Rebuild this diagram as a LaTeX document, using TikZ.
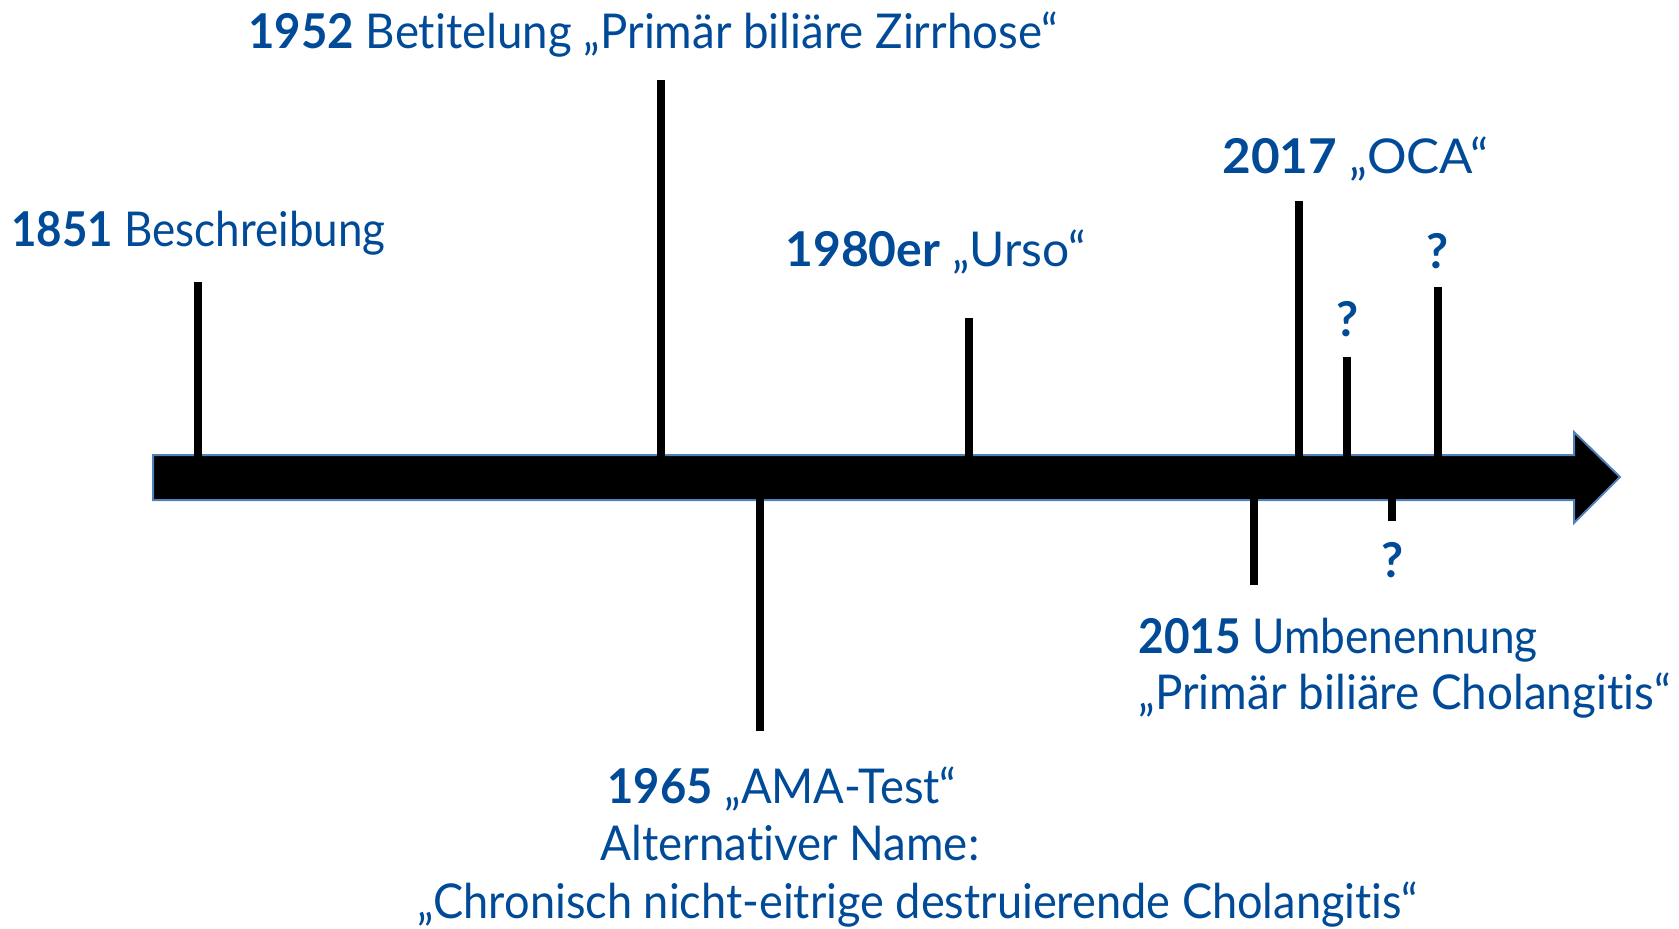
\documentclass[tikz,border=0pt]{standalone}
\usepackage{fontspec}
\setmainfont{Lato}[Ligatures=NoCommon]
\definecolor{textblue}{RGB}{0,74,152}
\definecolor{edgeblue}{RGB}{79,129,189}
\tikzset{
  tick/.style={line width=4pt, black},
  label/.style={anchor=base west, inner sep=0pt, text=textblue, font=\fontsize{24}{28}\selectfont},
  query/.style={anchor=base, inner sep=0pt, text=textblue, font=\fontsize{24}{28}\selectfont\bfseries},
}
\begin{document}
\begin{tikzpicture}[x=0.5pt, y=-0.5pt]
\useasboundingbox (0,0) rectangle (1679,928);
% timeline arrow
\draw[edgeblue, line width=1pt, fill=black] (153,455) -- (1574,455) -- (1574,432) -- (1620,477)
  -- (1574,523) -- (1574,500) -- (153,500) -- cycle;
% tick ends
\coordinate (t1851) at (198,282);
\coordinate (t1952) at (661,80);
\coordinate (t1965) at (760,731);
\coordinate (t1980) at (969,318);
\coordinate (t2015) at (1254,585);
\coordinate (t2017) at (1299,201);
\coordinate (tq1) at (1347,357);
\coordinate (tq2) at (1392,521);
\coordinate (tq3) at (1438,287);
\draw[tick] (t1851) -- (198,470);
\draw[tick] (t1952) -- (661,470);
\draw[tick] (t1980) -- (969,470);
\draw[tick] (t2017) -- (1299,470);
\draw[tick] (tq1) -- (1347,470);
\draw[tick] (tq3) -- (1438,470);
\draw[tick] (t1965) -- (760,485);
\draw[tick] (t2015) -- (1254,485);
\draw[tick] (tq2) -- (1392,485);
% labels
\node[label, xscale=0.915] (l1851) at (11,246) {\textbf{1851} Beschreibung};
\node[label, xscale=0.95] (l1952) at (248,48) {\textbf{1952} Betitelung „Primär biliäre Zirrhose“};
\node[label] (l1980) at (785,266) {\textbf{1980er} „Urso“};
\node[label, xscale=1.03] (l2017) at (1222,173) {\textbf{2017} „OCA“};
\node[label, xscale=0.92] (l2015) at (1138,653) {\textbf{2015} Umbenennung};
\node[label, xscale=0.953] (l2015b) at (1138,709) {„Primär biliäre Cholangitis“};
\node[label, anchor=base, xscale=0.945] (l1965) at (782,803) {\textbf{1965} „AMA-Test“};
\node[label, anchor=base, xscale=0.95] (l1965b) at (790,860) {Alternativer Name:};
\node[label, anchor=base, xscale=0.94] (l1965c) at (918,918) {„Chronisch nicht-eitrige destruierende Cholangitis“};
\node[query] (q1) at (1348,336) {?};
\node[query] (q2) at (1393,577) {?};
\node[query] (q3) at (1438,268) {?};
\end{tikzpicture}
\end{document}
